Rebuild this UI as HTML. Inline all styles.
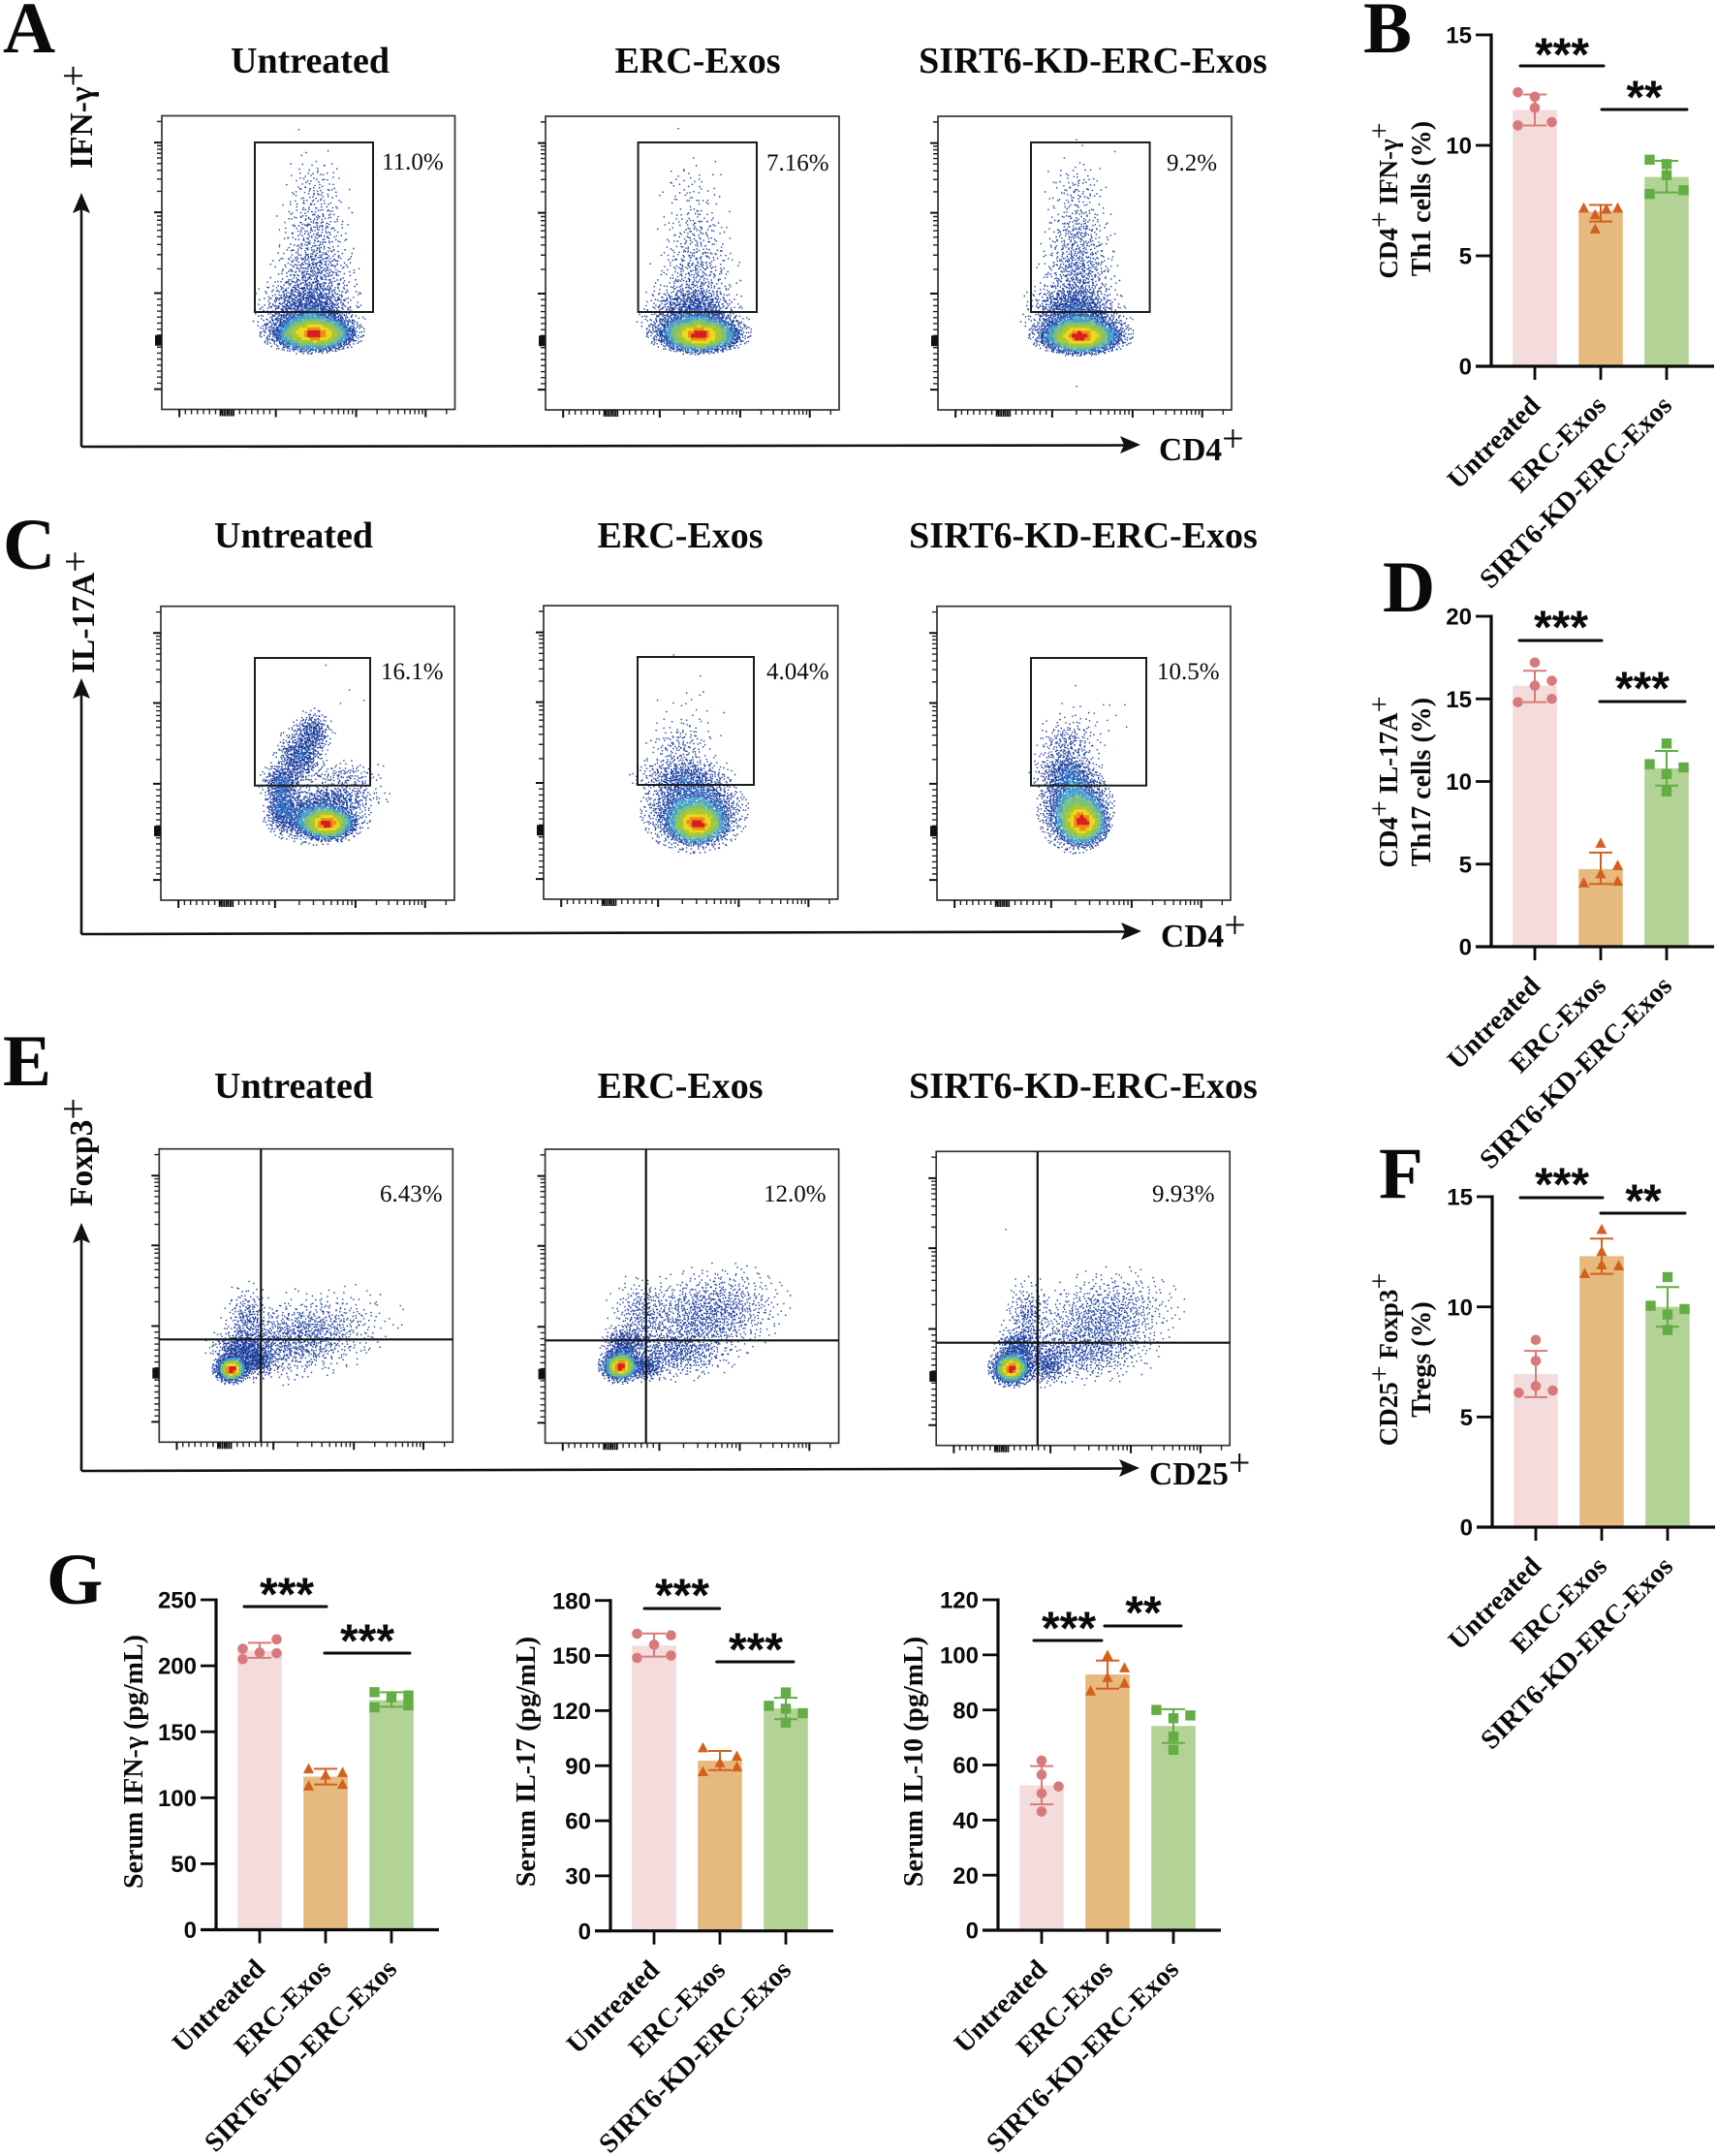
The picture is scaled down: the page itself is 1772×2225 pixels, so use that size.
<!DOCTYPE html>
<html lang="en">
<head>
<meta charset="utf-8">
<title>Flow cytometry and serum cytokine figure</title>
<style>
html,body{margin:0;padding:0;background:#fff;}
svg{display:block;}
text{font-family:"Liberation Serif",serif;fill:#0a0a0a;}
.letter{font-size:75px;font-weight:700;}
.title{font-size:38px;font-weight:700;text-anchor:middle;}
.pct{font-size:25px;}
.axl{font-size:33.5px;font-weight:700;}
.axl .plus{font-size:40px;font-weight:400;}
.cht{font-size:28px;font-weight:700;text-anchor:middle;}
.cht1{font-size:27px;}
.cht .plus{font-size:30px;font-weight:400;}
.frame{fill:none;stroke:#333;stroke-width:1.7;}
.gate{fill:none;stroke:#1c1c1c;stroke-width:2;}
.quad{stroke:#111;stroke-width:2.2;}
.arrow{stroke:#111;stroke-width:2.6;fill:none;}
</style>
</head>
<body>
<svg id="fig" width="1772" height="2225" viewBox="0 0 1772 2225">
<rect width="1772" height="2225" fill="#fff"/>

<text class="letter" x="3" y="54">A</text>
<text class="letter" x="1407" y="54">B</text>
<text class="letter" x="3" y="587">C</text>
<text class="letter" x="1427" y="631">D</text>
<text class="letter" x="3" y="1120">E</text>
<text class="letter" x="1423" y="1236">F</text>
<text class="letter" x="48" y="1655">G</text>

<text class="title" x="320" y="75">Untreated</text>
<text class="title" x="720" y="75">ERC-Exos</text>
<text class="title" x="1128" y="75">SIRT6-KD-ERC-Exos</text>
<text class="title" x="303" y="565">Untreated</text>
<text class="title" x="702" y="565">ERC-Exos</text>
<text class="title" x="1118" y="565">SIRT6-KD-ERC-Exos</text>
<text class="title" x="303" y="1133">Untreated</text>
<text class="title" x="702" y="1133">ERC-Exos</text>
<text class="title" x="1118" y="1133">SIRT6-KD-ERC-Exos</text>

<g>
  <path class="arrow" d="M84 461 V215 M84 461 L1160 459.5"/>
  <path d="M84 199 L75 220 L84 216 L93 220 Z" fill="#111"/>
  <path d="M1177 459 L1156 450 L1160 459 L1156 468 Z" fill="#111"/>
</g>
<g>
  <path class="arrow" d="M84 964 V716 M84 964 L1162 961.5"/>
  <path d="M84 700 L75 721 L84 717 L93 721 Z" fill="#111"/>
  <path d="M1178 961 L1157 952 L1161 961 L1157 970 Z" fill="#111"/>
</g>
<g>
  <path class="arrow" d="M84 1518 V1278 M84 1518 L1160 1515.5"/>
  <path d="M84 1262 L75 1283 L84 1279 L93 1283 Z" fill="#111"/>
  <path d="M1176 1515 L1155 1506 L1159 1515 L1155 1524 Z" fill="#111"/>
</g>

<text class="axl" transform="translate(95,174) rotate(-90)">IFN-γ<tspan class="plus" dy="-6">+</tspan></text>
<text class="axl" x="1196" y="475">CD4<tspan class="plus" dy="-9">+</tspan></text>
<text class="axl" transform="translate(97,695) rotate(-90)">IL-17A<tspan class="plus" dy="-6">+</tspan></text>
<text class="axl" x="1198" y="977">CD4<tspan class="plus" dy="-9">+</tspan></text>
<text class="axl" transform="translate(95,1245) rotate(-90)">Foxp3<tspan class="plus" dy="-6">+</tspan></text>
<text class="axl" x="1186" y="1532">CD25<tspan class="plus" dy="-9">+</tspan></text>

<g id="plot-a1">
  <rect class="frame" x="167" y="119.5" width="302.5" height="303"/>
  <rect class="gate" x="263" y="147" width="122" height="175"/>
  <text class="pct" x="394" y="175">11.0%</text>
</g>
<g id="plot-a2">
  <rect class="frame" x="563" y="120" width="303" height="303"/>
  <rect class="gate" x="658.6" y="147" width="122.4" height="175"/>
  <text class="pct" x="791" y="176">7.16%</text>
</g>
<g id="plot-a3">
  <rect class="frame" x="968" y="120" width="303" height="303"/>
  <rect class="gate" x="1064" y="147" width="122.6" height="175"/>
  <text class="pct" x="1204" y="176">9.2%</text>
</g>
<g id="plot-c1">
  <rect class="frame" x="166" y="625.7" width="303" height="303.3"/>
  <rect class="gate" x="263" y="679" width="119" height="131.7"/>
  <text class="pct" x="393" y="701">16.1%</text>
</g>
<g id="plot-c2">
  <rect class="frame" x="561" y="625" width="303.7" height="303"/>
  <rect class="gate" x="658" y="678" width="120" height="132"/>
  <text class="pct" x="791" y="701">4.04%</text>
</g>
<g id="plot-c3">
  <rect class="frame" x="967" y="625.7" width="303" height="303.3"/>
  <rect class="gate" x="1064" y="679" width="119" height="131.7"/>
  <text class="pct" x="1194" y="701">10.5%</text>
</g>
<g id="plot-e1">
  <rect class="frame" x="164.3" y="1185.7" width="303" height="302.6"/>
  <path class="quad" d="M269.3 1185.7 V1488.3 M164.3 1382.3 H467.3"/>
  <text class="pct" x="392" y="1240">6.43%</text>
</g>
<g id="plot-e2">
  <rect class="frame" x="562.6" y="1186" width="303" height="303.3"/>
  <path class="quad" d="M666.7 1186 V1489.3 M562.6 1383.3 H865.6"/>
  <text class="pct" x="788" y="1240">12.0%</text>
</g>
<g id="plot-e3">
  <rect class="frame" x="966.2" y="1188.3" width="303" height="303.4"/>
  <path class="quad" d="M1070.8 1188.3 V1491.7 M966.2 1385.7 H1269.2"/>
  <text class="pct" x="1189" y="1240">9.93%</text>
</g>

<g id="chart-b">
  <text class="cht cht1" transform="translate(1442,207) rotate(-90)">CD4<tspan class="plus" dy="-9">+</tspan><tspan dy="9"> IFN-γ</tspan><tspan class="plus" dy="-9">+</tspan></text>
  <text class="cht" transform="translate(1476,205) rotate(-90)">Th1 cells (%)</text>
</g>
<g id="chart-d">
  <text class="cht cht1" transform="translate(1442,807) rotate(-90)">CD4<tspan class="plus" dy="-9">+</tspan><tspan dy="9"> IL-17A</tspan><tspan class="plus" dy="-9">+</tspan></text>
  <text class="cht" transform="translate(1476,807) rotate(-90)">Th17 cells (%)</text>
</g>
<g id="chart-f">
  <text class="cht cht1" transform="translate(1442,1403) rotate(-90)">CD25<tspan class="plus" dy="-9">+</tspan><tspan dy="9"> Foxp3</tspan><tspan class="plus" dy="-9">+</tspan></text>
  <text class="cht" transform="translate(1476,1403) rotate(-90)">Tregs (%)</text>
</g>
<g id="chart-g1">
  <text class="cht" transform="translate(147,1818) rotate(-90)">Serum IFN-γ (pg/mL)</text>
</g>
<g id="chart-g2">
  <text class="cht" transform="translate(552,1818) rotate(-90)">Serum IL-17 (pg/mL)</text>
</g>
<g id="chart-g3">
  <text class="cht" transform="translate(952,1818) rotate(-90)">Serum IL-10 (pg/mL)</text>
</g>
</svg>

<script>
// ---- Shared categories ----
const categories = ['Untreated', 'ERC-Exos', 'SIRT6-KD-ERC-Exos'];
const barColors = ['#f4dcdc', '#e6b97e', '#b3d396'];
const markColors = ['#d87a7c', '#d4601f', '#63ad44'];
const markShapes = ['circle', 'triangle', 'square'];

// ---- Panel B: Th1 ----
const th1Ticks = [0, 5, 10, 15];
const th1Means = [11.6, 7.0, 8.57];
const th1Low = [10.9, 6.55, 7.87];
const th1High = [12.3, 7.3, 9.3];
const th1Points = [[12.4, 12.2, 11.7, 11.05, 10.9], [7.15, 7.1, 7.15, 6.85, 6.2], [9.35, 9.15, 8.65, 7.8, 7.97]];
const th1Slots = [[-1, 0, 0, 1, -1], [-1, 0.33, 1, -0.33, -0.33], [-1, 0, 0, -1, 1]];

// ---- Panel D: Th17 ----
const th17Ticks = [0, 5, 10, 15, 20];
const th17Means = [15.8, 4.7, 10.8];
const th17Low = [14.8, 3.8, 9.75];
const th17High = [16.7, 5.7, 11.85];
const th17Points = [[17.2, 16.1, 15.8, 15.0, 14.8], [6.25, 4.9, 4.4, 3.95, 3.85], [12.3, 11.05, 10.85, 10.45, 9.4]];
const th17Slots = [[0, 1, 0, 1, -1], [0, 1, 0, 1, -1], [0, -1, 1, 0, 0]];

// ---- Panel F: Tregs ----
const tregTicks = [0, 5, 10, 15];
const tregMeans = [6.95, 12.3, 10.0];
const tregLow = [5.9, 11.5, 9.1];
const tregHigh = [8.0, 13.1, 10.9];
const tregPoints = [[8.5, 7.55, 6.4, 6.2, 6.1], [13.5, 12.5, 11.9, 11.85, 11.5], [11.35, 10.05, 9.9, 9.65, 8.95]];
const tregSlots = [[0, 0, 0, 1, -1], [0, 0, 0, 1, -1], [0, -1, 1, 0, 0]];

// ---- Panel G: serum cytokines ----
const ifnTicks = [0, 50, 100, 150, 200, 250];
const ifnMeans = [211.4, 116, 174];
const ifnLow = [206, 110, 169];
const ifnHigh = [217.4, 122, 180];
const ifnPoints = [[220, 212.9, 210, 209.5, 205], [121.7, 119, 117, 110, 108.7], [180, 177.5, 176, 170, 168.5]];
const ifnSlots = [[1, -1, 0, 1, -1], [-1, 1, 0, 1, -1], [-1, 1, 0, 1, -1]];

const il17Ticks = [0, 30, 60, 90, 120, 150, 180];
const il17Means = [155.4, 92.7, 121.2];
const il17Low = [149.4, 87.6, 115.3];
const il17High = [162, 98, 127];
const il17Points = [[161.9, 161, 155.9, 150, 148.7], [99.6, 95, 91.5, 89.2, 86.6], [129.9, 122.6, 121, 118.6, 113.5]];
const il17Slots = [[-1, 1, 0, 1, -1], [-1, 1, 0, 1, -1], [0, -1, 0, 1, 0]];

const il10Ticks = [0, 20, 40, 60, 80, 100, 120];
const il10Means = [52.6, 92.9, 74.2];
const il10Low = [45.7, 87.7, 68];
const il10High = [59.6, 97.9, 80.3];
const il10Points = [[61.6, 56.5, 52.2, 49.7, 43.1], [99.7, 95.2, 91.7, 89.6, 86.8], [80, 78, 77, 70.3, 65.5]];
const il10Slots = [[0, 0, 1, 0, 0], [0, 1, 0, 1, -1], [-1, 1, 0, 0, 0]];

// ---- Flow plots: populations ----
// Each row: centre on x axis, centre on y axis, spread x, spread y, event count, tilt (axis fractions)
const a1Populations = [[.52,.744,.052,.023,3500,0],[.51,.74,.068,.027,2300,0],[.50,.69,.072,.03,900,0],[.50,.625,.07,.035,700,0],[.52,.52,.06,.05,450,0],[.52,.38,.052,.055,250,0],[.52,.24,.046,.05,100,0],[.465,.047,0,0,1,0]];
const a2Populations = [[.523,.747,.052,.023,3500,0],[.52,.74,.068,.027,2300,0],[.50,.69,.072,.03,900,0],[.50,.63,.065,.03,450,0],[.51,.53,.06,.05,280,0],[.51,.40,.052,.055,150,0],[.49,.25,.05,.05,55,0],[.45,.042,0,0,1,0]];
const a3Populations = [[.483,.752,.052,.023,3500,0],[.485,.745,.068,.027,2300,0],[.47,.69,.072,.03,900,0],[.46,.63,.065,.03,550,0],[.475,.53,.056,.05,420,0],[.475,.40,.05,.055,260,0],[.47,.25,.046,.045,95,0],[.47,.08,0,0,1,0],[.49,.10,0,0,1,0],[.6,.12,0,0,1,0],[.47,.92,0,0,1,0]];
const c1Populations = [[.565,.74,.038,.022,3000,0],[.53,.72,.07,.035,1800,0],[.41,.68,.024,.035,400,0],[.41,.60,.03,.03,450,0],[.47,.51,.035,.04,600,0],[.515,.43,.028,.032,350,0],[.62,.58,.06,.025,150,0],[.60,.65,.07,.02,300,0],[.56,.2,0,0,1,0],[.64,.285,0,0,1,0],[.61,.33,0,0,1,0],[.69,.32,0,0,1,0]];
const c2Populations = [[.52,.744,.042,.028,3000,0],[.51,.70,.07,.055,2600,0],[.47,.58,.07,.03,500,0],[.46,.48,.05,.04,150,0],[.50,.38,.05,.05,25,0],[.44,.168,0,0,1,0],[.53,.24,0,0,1,0]];
const c3Populations = [[.494,.737,.036,.032,2800,0],[.47,.69,.05,.058,2600,0],[.44,.57,.05,.035,550,0],[.44,.47,.045,.04,220,0],[.52,.40,.06,.05,30,0],[.47,.27,0,0,1,0]];
const e1Populations = [[.244,.752,.016,.014,1800,0],[.244,.75,.025,.02,1300,0],[.27,.68,.04,.025,400,0],[.44,.66,.11,.055,700,-.1],[.53,.62,.115,.06,500,-.15],[.30,.58,.035,.05,250,0],[.33,.72,.03,.025,400,0]];
const e2Populations = [[.254,.74,.02,.016,1800,0],[.254,.735,.029,.024,1400,0],[.27,.66,.035,.025,350,0],[.56,.56,.105,.065,1100,-.12],[.44,.69,.085,.04,600,0],[.33,.56,.05,.055,300,0],[.34,.74,.03,.02,300,0]];
const e3Populations = [[.253,.74,.021,.018,1800,0],[.255,.735,.031,.026,1500,0],[.28,.66,.035,.025,350,0],[.57,.565,.105,.065,900,-.12],[.50,.68,.10,.045,600,0],[.31,.56,.035,.055,250,0],[.37,.725,.035,.03,350,0],[.235,.265,0,0,1,0]];

// Axis decades on the flow plots, as fractions of the frame
const flowXDecades = [.06, .389, .663, .90];
const flowYDecades = [.931, .604, .329, .091];

const densityStops = [.1, .16, .26, .42, .62, .8, .92, 2];
const densityColors = ['#1d3f9e', '#2b62b8', '#45a0c8', '#7cc07c', '#a8c832', '#ecd820', '#f08c1a', '#d81e1e'];

// ---- Drawing helpers ----
const root = document.getElementById('fig');
const NS = root.namespaceURI;
function mk(parent, tag, attrs) {
  const el = document.createElementNS(NS, tag);
  for (const k in attrs) el.setAttribute(k, attrs[k]);
  parent.appendChild(el);
  return el;
}
function halton(i, b) {
  let f = 1, r = 0;
  while (i > 0) { f /= b; r += f * (i % b); i = Math.floor(i / b); }
  return r;
}

function drawBarChart(cfg) {
  const g = document.getElementById(cfg.id);
  const maxV = cfg.ticks[cfg.ticks.length - 1];
  const yScale = v => cfg.y0 - (v / maxV) * (cfg.y0 - cfg.yTop);
  const xCenter = i => cfg.x + 45 + i * 68;

  categories.forEach((cat, i) => {
    const bar = mk(g, 'rect', { x: xCenter(i) - 22.8, y: yScale(cfg.means[i]), width: 45.6, height: cfg.y0 - yScale(cfg.means[i]), fill: barColors[i] });
    
    

    const err = mk(g, 'path', {
      d: 'M' + xCenter(i) + ' ' + yScale(cfg.low[i]) + 'V' + yScale(cfg.high[i]) +
         'M' + (xCenter(i) - 12) + ' ' + yScale(cfg.high[i]) + 'h24' +
         'M' + (xCenter(i) - 12) + ' ' + yScale(cfg.low[i]) + 'h24',
      stroke: markColors[i], 'stroke-width': 2, fill: 'none'
    });
    
    

    cfg.points[i].forEach((v, j) => {
      const px = xCenter(i) + cfg.slots[i][j] * 17.5;
      const py = yScale(v);
      let m;
      if (markShapes[i] === 'circle') {
        m = mk(g, 'circle', { cx: px, cy: py, r: 5.3, fill: markColors[i] });
      } else if (markShapes[i] === 'triangle') {
        m = mk(g, 'path', { d: 'M' + px + ' ' + (py - 6.2) + 'l5.6 10.6h-11.2z', fill: markColors[i] });
      } else {
        m = mk(g, 'rect', { x: px - 5.2, y: py - 5.2, width: 10.4, height: 10.4, fill: markColors[i] });
      }
      
      
    });
  });

  const axes = mk(g, 'path', {
    d: 'M' + cfg.x + ' ' + (cfg.yTop - 1.5) + 'V' + (cfg.y0 + 1.5) + 'M' + (cfg.x - 16) + ' ' + cfg.y0 + 'H' + (cfg.x + 230),
    stroke: '#0a0a0a', 'stroke-width': 3.2, fill: 'none'
  });
  
  

  cfg.ticks.forEach(t => {
    const tick = mk(g, 'line', { x1: cfg.x - 16, x2: cfg.x, y1: yScale(t), y2: yScale(t), stroke: '#0a0a0a', 'stroke-width': 2.8 });
    
    
    const lab = mk(g, 'text', { x: cfg.x - 20, y: yScale(t) + 8.6, 'text-anchor': 'end', 'font-size': 24, 'font-weight': 700, style: 'font-family:"Liberation Sans",sans-serif' });
    lab.textContent = String(t);
    
    
  });

  categories.forEach((cat, i) => {
    const tick = mk(g, 'line', { x1: xCenter(i), x2: xCenter(i), y1: cfg.y0, y2: cfg.y0 + 14, stroke: '#0a0a0a', 'stroke-width': 2.8 });
    
    
    const lab = mk(g, 'text', {
      'text-anchor': 'end', 'font-size': 28.2, 'font-weight': 700,
      transform: 'translate(' + (xCenter(i) + 7) + ',' + (cfg.y0 + 42) + ') rotate(-45)'
    });
    lab.textContent = cat;
    
    
  });

  cfg.sig.forEach(s => {
    const line = mk(g, 'line', { x1: s[0], x2: s[1], y1: s[2], y2: s[2], stroke: '#0a0a0a', 'stroke-width': 3, 'stroke-linecap': 'round' });
    
    
    const st = mk(g, 'text', { x: s[4], y: s[5] + 23.6, 'text-anchor': 'middle', 'font-size': 48, style: 'font-family:"Liberation Sans",sans-serif;font-weight:700' });
    st.textContent = s[3];
    
    
  });
}

function axisMarks(decades, linearIndex, blockAt, blockEnd) {
  // returns major, minor and block tick fractions from the decade positions
  const minor = [], block = [];
  for (let i = 0; i < decades.length - 1; i++) {
    const a = decades[i], b = decades[i + 1];
    if (i === linearIndex) {
      for (let k = 1; k < 16; k++) minor.push(a + (b - a) * k / 16);
      for (let k = 0; k <= 6; k++) block.push(blockAt + (blockEnd - blockAt) * k / 6);
    } else {
      for (let k = 2; k < 10; k++) minor.push(a + (b - a) * Math.log10(k));
    }
  }
  const last = decades[decades.length - 1];
  const prev = decades[decades.length - 2];
  minor.push(last + (last - prev) * Math.log10(2));
  return { major: decades, minor: minor, block: block };
}

function drawFlow(id, frame, populations) {
  const g = document.getElementById(id);
  const xAt = f => frame[0] + f * frame[2];
  const yAt = f => frame[1] + f * frame[3];

  // Axis ticks
  const xm = axisMarks(flowXDecades, 0, .2, .245);
  const ym = axisMarks(flowYDecades, 0, .78, .75);
  const bottom = frame[1] + frame[3], left = frame[0];
  let dMajor = '', dMinor = '', dBlock = '';
  xm.major.forEach(f => { dMajor += 'M' + xAt(f) + ' ' + bottom + 'v8'; });
  xm.minor.forEach(f => { dMinor += 'M' + xAt(f) + ' ' + bottom + 'v5'; });
  xm.block.forEach(f => { dBlock += 'M' + xAt(f) + ' ' + bottom + 'v7'; });
  ym.major.forEach(f => { dMajor += 'M' + left + ' ' + yAt(f) + 'h-8'; });
  ym.minor.forEach(f => { dMinor += 'M' + left + ' ' + yAt(f) + 'h-5'; });
  ym.block.forEach(f => { dBlock += 'M' + left + ' ' + yAt(f) + 'h-7'; });
  const tMajor = mk(g, 'path', { d: dMajor, stroke: '#111', 'stroke-width': 2, fill: 'none' });
  
  
  const tMinor = mk(g, 'path', { d: dMinor, stroke: '#222', 'stroke-width': 1.4, fill: 'none' });
  
  
  const tBlock = mk(g, 'path', { d: dBlock, stroke: '#111', 'stroke-width': 1.8, fill: 'none' });
  
  

  // Event stipple: each population is filled with an even low-discrepancy sequence
  const events = [];
  let seq = 1;
  populations.forEach(p => {
    for (let n = 0; n < p[4]; n++) {
      const i = seq++;
      const u = halton(i, 2), v = halton(i, 3);
      const r = Math.min(Math.sqrt(-2 * Math.log(1 - u * .985)), 2.6);
      const th = 2 * Math.PI * v;
      const dx = r * Math.cos(th) * p[2], dy = r * Math.sin(th) * p[3] + p[5] * r * Math.cos(th) * p[2];
      const j = p[4] > 1 ? 1 : 0;
      events.push([
        xAt(p[0] + dx) + j * (halton(i, 5) - .5) * 2.4,
        yAt(p[1] + dy) + j * (halton(i, 7) - .5) * 2.4
      ]);
    }
  });

  // Density colouring on a 3 px grid
  const bin = 3, cols = Math.ceil(frame[2] / bin) + 2, rows = Math.ceil(frame[3] / bin) + 2;
  const grid = new Float32Array(cols * rows);
  const idx = (c, r) => r * cols + c;
  const cellOf = e => [Math.max(1, Math.min(cols - 2, Math.floor((e[0] - frame[0]) / bin))), Math.max(1, Math.min(rows - 2, Math.floor((e[1] - frame[1]) / bin)))];
  events.forEach(e => { const c = cellOf(e); grid[idx(c[0], c[1])]++; });
  const smooth = c => {
    let s = 0;
    for (let a = -1; a <= 1; a++) for (let b = -1; b <= 1; b++) s += grid[idx(c[0] + a, c[1] + b)];
    return s;
  };
  let peak = 1;
  events.forEach(e => { peak = Math.max(peak, smooth(cellOf(e))); });
  const strokes = densityColors.map(() => []);
  events.forEach(e => {
    const t = smooth(cellOf(e)) / peak;
    let b = 0;
    while (t >= densityStops[b]) b++;
    strokes[b].push('M' + e[0].toFixed(1) + ' ' + e[1].toFixed(1) + 'h1.4');
  });
  const first = g.firstChild;
  densityColors.forEach((c, b) => {
    const path = document.createElementNS(NS, 'path');
    path.setAttribute('d', strokes[b].join(''));
    path.setAttribute('stroke', c);
    path.setAttribute('stroke-width', '1.4');
    path.setAttribute('fill', 'none');
    
    
    g.insertBefore(path, first);
  });
}

// ---- Build charts ----
drawBarChart({ id: 'chart-b', x: 1539, yTop: 36, y0: 378, ticks: th1Ticks, means: th1Means, low: th1Low, high: th1High, points: th1Points, slots: th1Slots,
  sig: [[1569, 1655, 68, '***', 1612, 49], [1653, 1741, 113, '**', 1697, 93]] });
drawBarChart({ id: 'chart-d', x: 1539, yTop: 636, y0: 977, ticks: th17Ticks, means: th17Means, low: th17Low, high: th17High, points: th17Points, slots: th17Slots,
  sig: [[1568, 1653, 661, '***', 1611, 640], [1651, 1739, 724, '***', 1695, 703]] });
drawBarChart({ id: 'chart-f', x: 1540, yTop: 1235, y0: 1576, ticks: tregTicks, means: tregMeans, low: tregLow, high: tregHigh, points: tregPoints, slots: tregSlots,
  sig: [[1569, 1654, 1236, '***', 1612, 1215], [1652, 1739, 1252, '**', 1696, 1232]] });
drawBarChart({ id: 'chart-g1', x: 223, yTop: 1651, y0: 1991.5, ticks: ifnTicks, means: ifnMeans, low: ifnLow, high: ifnHigh, points: ifnPoints, slots: ifnSlots,
  sig: [[252, 337, 1658, '***', 296, 1638], [335, 423, 1706, '***', 379, 1686]] });
drawBarChart({ id: 'chart-g2', x: 630, yTop: 1651.7, y0: 1992.7, ticks: il17Ticks, means: il17Means, low: il17Low, high: il17High, points: il17Points, slots: il17Slots,
  sig: [[665, 742.7, 1660, '***', 704, 1639], [739.7, 819, 1715, '***', 780, 1695]] });
drawBarChart({ id: 'chart-g3', x: 1030, yTop: 1651, y0: 1992, ticks: il10Ticks, means: il10Means, low: il10Low, high: il10High, points: il10Points, slots: il10Slots,
  sig: [[1067, 1137, 1693, '***', 1103, 1673], [1140, 1219, 1678, '**', 1180, 1657]] });

drawFlow('plot-a1', [167, 119.5, 302.5, 303], a1Populations);
drawFlow('plot-a2', [563, 120, 303, 303], a2Populations);
drawFlow('plot-a3', [968, 120, 303, 303], a3Populations);
drawFlow('plot-c1', [166, 625.7, 303, 303.3], c1Populations);
drawFlow('plot-c2', [561, 625, 303.7, 303], c2Populations);
drawFlow('plot-c3', [967, 625.7, 303, 303.3], c3Populations);
drawFlow('plot-e1', [164.3, 1185.7, 303, 302.6], e1Populations);
drawFlow('plot-e2', [562.6, 1186, 303, 303.3], e2Populations);
drawFlow('plot-e3', [966.2, 1188.3, 303, 303.4], e3Populations);
</script>
</body>
</html>
